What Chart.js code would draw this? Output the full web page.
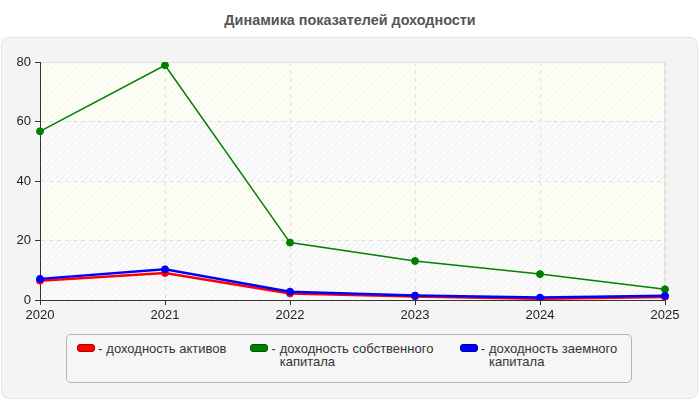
<!DOCTYPE html>
<html>
<head>
<meta charset="utf-8">
<script src="https://cdn.jsdelivr.net/npm/chart.js@4.4.1/dist/chart.umd.min.js"></script>
<style>
  html, body { margin: 0; padding: 0; background: #fff; }
  body { width: 700px; height: 400px; position: relative; overflow: hidden;
         font-family: Arial, "Liberation Sans", sans-serif; }
  #title { position: absolute; left: 0; top: 12px; width: 700px; text-align: center;
           font-size: 14.4px; font-weight: bold; color: #555; }
  #box { position: absolute; left: 1px; top: 37px; width: 695px; height: 360px;
         background: #f4f4f4; border: 1px solid #e4e4e4; border-radius: 8px; }
  #chart { position: absolute; left: 0; top: 0; }
  #legend { position: absolute; left: 66px; top: 334px; width: 554px; height: 40px;
            padding: 7px 0 0 10px; border: 1px solid #b4b4b4; border-radius: 5px;
            background: #f6f6f6; display: flex; gap: 24px; align-items: flex-start;
            font-size: 13px; line-height: 13px; color: #333; }
  .item { display: flex; align-items: flex-start; flex: none; }
  .sw { width: 16px; height: 6px; border-radius: 3px; margin: 2px 3px 0 0; flex: none; }
  .dash { margin-right: 4px; flex: none; }
  .txt { max-width: 156px; }
</style>
</head>
<body>
<div id="title">Динамика показателей доходности</div>
<div id="box"></div>
<canvas id="chart" width="700" height="400"></canvas>
<div id="legend"></div>
<script>
// data
const years = ['2020', '2021', '2022', '2023', '2024', '2025'];
const assetsReturn = [6.5, 9.1, 2.2, 1.2, 0.4, 1.0];
const equityReturn = [56.7, 78.9, 19.3, 13.1, 8.7, 3.6];
const debtReturn = [7.1, 10.3, 2.8, 1.5, 0.8, 1.45];
const yTicks = [0, 20, 40, 60, 80];

const seriesNames = ['доходность активов', 'доходность собственного капитала', 'доходность заемного капитала'];
const seriesColors = ['#ff0000', '#008000', '#0000ff'];
const swatchBorders = ['#b00000', '#005500', '#0000a0'];

// hatched backgrounds for the bands between y ticks
function makePattern(bg, line) {
  const c = document.createElement('canvas');
  c.width = 6; c.height = 6;
  const g = c.getContext('2d');
  g.fillStyle = bg;
  g.fillRect(0, 0, 6, 6);
  g.strokeStyle = line;
  g.lineWidth = 1;
  g.beginPath();
  g.moveTo(0, 6); g.lineTo(6, 0);
  g.moveTo(-3, 3); g.lineTo(3, -3);
  g.moveTo(3, 9); g.lineTo(9, 3);
  g.stroke();
  return g.createPattern(c, 'repeat');
}

const bandPlugin = {
  id: 'bands',
  beforeDraw(chart) {
    const { ctx, chartArea: a, scales } = chart;
    const pA = makePattern('#fcfdf4', '#f6f7ec');
    const pB = makePattern('#fbfbfb', '#ededed');
    ctx.save();
    for (let i = 0; i < yTicks.length - 1; i++) {
      const y0 = scales.y.getPixelForValue(yTicks[i]);
      const y1 = scales.y.getPixelForValue(yTicks[i + 1]);
      ctx.fillStyle = i % 2 === 0 ? pB : pA;
      ctx.fillRect(a.left, y1, a.right - a.left, y0 - y1);
    }
    ctx.strokeStyle = '#e2e2e2';
    ctx.lineWidth = 1;
    ctx.beginPath();
    ctx.moveTo(a.left, a.top + 0.5);
    ctx.lineTo(a.right - 0.5, a.top + 0.5);
    ctx.lineTo(a.right - 0.5, a.bottom);
    ctx.stroke();
    ctx.restore();
  }
};

const font = { family: 'Arial, "Liberation Sans", sans-serif', size: 13 };

function ds(label, data, color, width, order) {
  return {
    label: label,
    data: data,
    borderColor: color,
    backgroundColor: color,
    pointBackgroundColor: color,
    pointBorderColor: color,
    borderWidth: width,
    pointRadius: 3.5,
    pointBorderWidth: 1,
    tension: 0,
    fill: false,
    order: order
  };
}

new Chart(document.getElementById('chart'), {
  type: 'line',
  data: {
    labels: years,
    datasets: [
      ds(seriesNames[0], assetsReturn, seriesColors[0], 2.5, 3),
      ds(seriesNames[1], equityReturn, seriesColors[1], 1.5, 2),
      ds(seriesNames[2], debtReturn, seriesColors[2], 2.5, 1)
    ]
  },
  options: {
    responsive: false,
    animation: false,
    layout: { padding: { top: 62, right: 35, bottom: 78, left: 0 } },
    plugins: {
      legend: { display: false },
      title: { display: false },
      tooltip: { enabled: false }
    },
    scales: {
      x: {
        offset: false,
        grid: { color: '#e0e0e0', tickColor: '#333', tickLength: 5, drawTicks: true },
        border: { display: true, color: '#333', width: 1, dash: [4, 4] },
        ticks: { color: '#222', font: font, padding: 3, maxRotation: 0 },
        afterFit(s) { s.height = 22; }
      },
      y: {
        min: 0,
        max: 80,
        grid: { color: '#e0e0e0', tickColor: '#333', tickLength: 5, drawTicks: true },
        border: { display: true, color: '#333', width: 1, dash: [4, 4] },
        ticks: { color: '#222', font: font, padding: 4, stepSize: 20 },
        afterFit(s) { s.width = 40; }
      }
    }
  },
  plugins: [bandPlugin]
});

// html legend
const legend = document.getElementById('legend');
seriesNames.forEach((name, i) => {
  const item = document.createElement('div');
  item.className = 'item';
  item.innerHTML = '<span class="sw" style="background:' + seriesColors[i] +
    ';border:1px solid ' + swatchBorders[i] + '"></span><span class="dash">-</span><span class="txt">' +
    name + '</span>';
  legend.appendChild(item);
});
</script>
</body>
</html>
